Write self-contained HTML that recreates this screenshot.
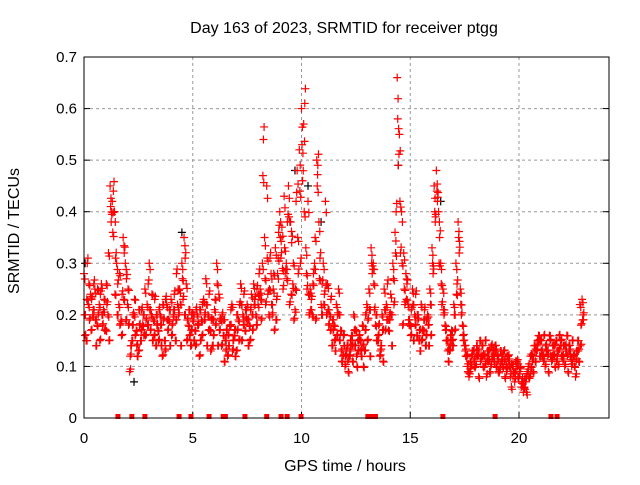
<!DOCTYPE html>
<html><head><meta charset="utf-8"><style>
body{margin:0;background:#fff}
svg text{font-family:"Liberation Sans",sans-serif;font-size:15px;fill:#000}
svg text.big{font-size:16px}
</style></head><body>
<svg id="c" width="640" height="480" xmlns="http://www.w3.org/2000/svg">
<rect width="640" height="480" fill="#fff"/>
<text class="big" x="344" y="33" text-anchor="middle">Day 163 of 2023, SRMTID for receiver ptgg</text>
<text class="big" x="345" y="471" text-anchor="middle">GPS time / hours</text>
<text class="big" transform="translate(19,231) rotate(-90)" text-anchor="middle">SRMTID / TECUs</text>
<g id="grid"></g><g id="ticks"></g><g id="black"></g><g id="red"></g>
<rect x="84" y="57" width="525" height="361" fill="none" stroke="#000" stroke-width="1"/>
</svg>
<script>
const xTicks=[0,5,10,15,20];
const yTicks=[0,0.1,0.2,0.3,0.4,0.5,0.6,0.7];
const yLabels=["0","0.1","0.2","0.3","0.4","0.5","0.6","0.7"];
const trackA=[.28,.15,.22,.24,.20,.25,.18,.22,.26,.21,.17,.20,.45,.42,.40,.30,.22,.19,.35,.30,.22,.09,.15,.20,.17,.13,.15,.18,.25,.22,.30,.20,.19,.14,.17,.20,.12,.15,.22,.19,.23,.20,.15,.22,.25,.30,.35,.26,.18,.14,.19,.17,.20,.12,.19,.23,.27,.20,.17,.14,.21,.30,.24,.19,.16,.15,.12,.18,.22,.16,.13,.19,.26,.20,.17,.22,.18,.24,.26,.20,.22,.25,.30,.35,.45,.20,.28,.25,.33,.28,.40,.37,.43,.30,.45,.38,.26,.21,.48,.52,.60,.57,.33,.42,.25,.20,.30,.50,.38,.22,.30,.42,.26,.20,.14,.18,.22,.25,.17,.12,.10,.14,.12,.16,.20,.17,.13,.15,.18,.13,.22,.25,.33,.30,.18,.15,.12,.20,.25,.22,.17,.24,.30,.36,.66,.55,.40,.32,.28,.22,.18,.25,.20,.16,.15,.22,.17,.14,.20,.25,.33,.45,.48,.40,.30,.25,.18,.15,.13,.17,.22,.30,.38,.25,.18,.14,.12,.08,.10,.13,.10,.12,.15,.14,.12,.08,.11,.10,.13,.14,.12,.09,.11,.13,.10,.12,.08,.10,.07,.11,.08,.06,.05,.07,.09,.08,.12,.14,.13,.16,.15,.12,.10,.13,.16,.11,.12,.15,.10,.14,.12,.10,.16,.14,.11,.12,.08,.15,.22,.23];
const trackB=[.16,.30,.19,.23,.26,.14,.20,.24,.18,.17,.22,.15,.38,.44,.31,.26,.18,.24,.32,.27,.18,.14,.20,.16,.12,.18,.21,.16,.19,.26,.17,.15,.23,.18,.21,.14,.19,.23,.17,.14,.18,.24,.28,.20,.14,.23,.31,.19,.16,.20,.15,.21,.18,.15,.22,.20,.14,.24,.19,.16,.18,.14,.19,.20,.11,.17,.14,.21,.15,.12,.17,.22,.15,.24,.19,.14,.21,.17,.23,.25,.28,.19,.54,.22,.24,.31,.20,.17,.23,.36,.31,.25,.28,.38,.22,.34,.19,.42,.28,.30,.46,.61,.25,.20,.23,.28,.19,.49,.31,.26,.24,.20,.18,.23,.17,.13,.20,.15,.11,.14,.13,.09,.15,.11,.14,.10,.16,.12,.10,.20,.19,.12,.28,.21,.15,.18,.14,.11,.17,.26,.20,.14,.22,.40,.49,.32,.18,.22,.26,.18,.21,.15,.24,.19,.13,.17,.21,.19,.14,.16,.28,.38,.42,.35,.22,.20,.15,.11,.16,.14,.17,.26,.32,.20,.15,.12,.09,.11,.13,.10,.14,.08,.12,.10,.15,.13,.09,.12,.11,.10,.09,.13,.10,.08,.12,.10,.06,.09,.11,.08,.10,.07,.06,.05,.08,.10,.09,.11,.15,.12,.12,.16,.13,.09,.12,.14,.10,.13,.16,.12,.14,.13,.09,.12,.15,.10,.13,.11,.18,.20];
const trackC=[.20,.23,.26,.17,.21,.19,.25,.15,.20,.23,.26,.32,.41,.36,.24,.20,.28,.16,.23,.19,.25,.12,.18,.23,.14,.21,.17,.20,.16,.18,.21,.24,.16,.20,.15,.18,.22,.13,.19,.21,.16,.21,.19,.25,.22,.27,.20,.15,.21,.17,.20,.14,.18,.21,.16,.19,.22,.17,.13,.19,.23,.26,.17,.14,.19,.13,.16,.18,.13,.17,.20,.15,.22,.18,.21,.19,.15,.20,.22,.18,.24,.23,.47,.27,.31,.25,.22,.28,.19,.31,.35,.29,.33,.27,.39,.24,.30,.25,.35,.44,.53,.40,.28,.24,.21,.26,.35,.45,.27,.20,.22,.26,.21,.17,.19,.15,.16,.20,.13,.16,.12,.11,.13,.14,.17,.12,.15,.13,.14,.17,.15,.21,.30,.26,.20,.16,.13,.17,.21,.19,.19,.20,.27,.32,.58,.42,.30,.25,.23,.19,.16,.22,.18,.20,.17,.15,.19,.16,.18,.22,.30,.40,.44,.30,.26,.21,.17,.13,.14,.15,.20,.24,.35,.22,.16,.13,.10,.09,.12,.11,.12,.13,.11,.12,.10,.11,.13,.14,.12,.13,.11,.10,.12,.11,.09,.11,.10,.08,.09,.10,.09,.07,.07,.08,.10,.12,.11,.13,.14,.15,.13,.11,.14,.12,.15,.12,.14,.11,.13,.15,.11,.14,.12,.13,.10,.12,.11,.13,.14,.19];
const blackTimes=[0.05,1.4,2.3,4.5,9.7,10.3,10.9,12.6,14.45,15.5,16.4];
const blackValues=[.30,.40,.07,.36,.48,.45,.38,.15,.49,.22,.42];
const zeroTimes=[1.56,2.2,2.8,4.37,4.92,5.75,6.4,6.5,7.4,8.4,9.06,9.34,9.98,13.05,13.15,13.25,13.4,16.5,18.9,21.47,21.75];
const NS="http://www.w3.org/2000/svg";
const X=h=>84+h*21.75, Y=v=>418-v*515.7;
function mk(tag,a,p){const e=document.createElementNS(NS,tag);for(const k in a)e.setAttribute(k,a[k]);p.appendChild(e);return e;}
const grid=document.getElementById('grid'),tk=document.getElementById('ticks');
xTicks.forEach(t=>{const x=X(t);
 if(t>0){const g=mk('line',{x1:x,y1:57,x2:x,y2:418,stroke:'#999','stroke-dasharray':'3,3'},grid);
 
 }
 mk('line',{x1:x,y1:418,x2:x,y2:412,stroke:'#000'},tk);
 const l=mk('text',{x:x,y:443,'text-anchor':'middle'},tk);l.textContent=t;
 
 });
yTicks.forEach((t,i)=>{const y=Y(t);
 if(i>0&&i<yTicks.length-1){const g=mk('line',{x1:84,y1:y,x2:609,y2:y,stroke:'#999','stroke-dasharray':'3,3'},grid);
 
 }
 mk('line',{x1:84,y1:y,x2:90,y2:y,stroke:'#000'},tk);mk('line',{x1:609,y1:y,x2:603,y2:y,stroke:'#000'},tk);
 const l=mk('text',{x:77,y:y+5,'text-anchor':'end'},tk);l.textContent=yLabels[i];
 
 });
function plus(h,v,col,g){const x=X(h),y=Y(v);
 const p=mk('path',{d:`M${x-4},${y}h8M${x},${y-4}v8`,stroke:col,'stroke-width':1.2,fill:'none'},g);
 
 }
const bg=document.getElementById('black'),rg=document.getElementById('red');
blackTimes.forEach((t,i)=>plus(t,blackValues[i],'#000',bg));
trackA.forEach((v,i)=>{plus(i*0.1,v,'#f00',rg);plus(i*0.1+0.04,v*0.92+0.012,'#f00',rg);});
trackB.forEach((v,i)=>{plus(i*0.1+0.05,v,'#f00',rg);plus(i*0.1+0.08,v*1.06-0.008,'#f00',rg);});
trackC.forEach((v,i)=>{plus(i*0.1+0.025,v,'#f00',rg);plus(i*0.1+0.065,v*0.95+0.01,'#f00',rg);});
zeroTimes.forEach(t=>{const r=mk('rect',{x:X(t)-2.5,y:414,width:5,height:5,fill:'#f00'},rg);
 
 });
</script>
</body></html>
